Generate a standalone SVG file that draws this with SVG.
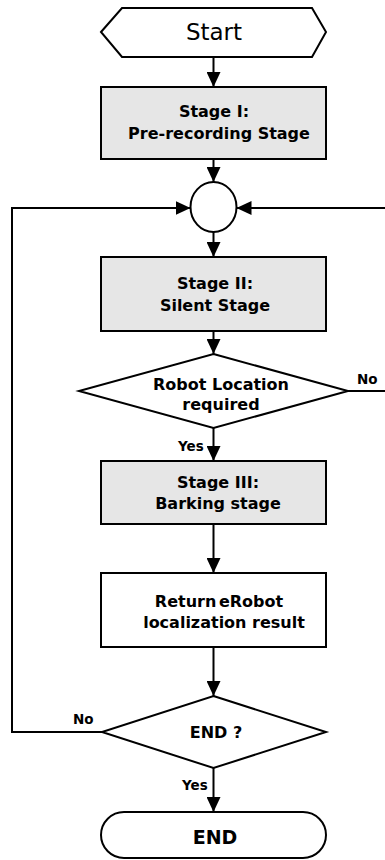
<svg xmlns="http://www.w3.org/2000/svg" width="385" height="860" viewBox="0 0 385 860">
  <style>
    .shape { stroke: #000; stroke-width: 2; }
    .stage { fill: #e6e6e6; }
    .plain { fill: #fff; }
    .lbl { font-family: "DejaVu Sans", Verdana, sans-serif; font-weight: bold; font-size: 16px; text-anchor: middle; fill: #000; }
    .tag { font-family: "DejaVu Sans", Verdana, sans-serif; font-weight: bold; font-size: 13.5px; fill: #000; }
    .wire { fill: none; stroke: #000; stroke-width: 2; }
  </style>
  <defs>
    <marker id="arrow" viewBox="0 0 15 14" refX="15" refY="7" markerWidth="15" markerHeight="14" markerUnits="userSpaceOnUse" orient="auto">
      <path d="M0,0 L15,7 L0,14 z" fill="#000"/>
    </marker>
  </defs>

  <rect width="385" height="860" fill="#fff"/>

  <!-- connectors -->
  <g id="connectors">
    <line class="wire" x1="213.5" y1="57" x2="213.5" y2="87" marker-end="url(#arrow)"/>
    <line class="wire" x1="213.5" y1="159" x2="213.5" y2="182" marker-end="url(#arrow)"/>
    <line class="wire" x1="213.5" y1="232" x2="213.5" y2="257" marker-end="url(#arrow)"/>
    <line class="wire" x1="213.5" y1="331" x2="213.5" y2="354" marker-end="url(#arrow)"/>
    <line class="wire" x1="213.5" y1="428" x2="213.5" y2="461" marker-end="url(#arrow)"/>
    <line class="wire" x1="213.5" y1="524" x2="213.5" y2="573" marker-end="url(#arrow)"/>
    <line class="wire" x1="213.5" y1="647" x2="213.5" y2="696" marker-end="url(#arrow)"/>
    <line class="wire" x1="213.5" y1="768" x2="213.5" y2="812" marker-end="url(#arrow)"/>
    <!-- loop back from END ? (No) -->
    <polyline class="wire" points="102,732 12,732 12,208 190.5,208" marker-end="url(#arrow)"/>
    <!-- loop back from Robot Location required (No) -->
    <line class="wire" x1="348" y1="391" x2="386" y2="391"/>
    <line class="wire" x1="386" y1="208" x2="236.5" y2="208" marker-end="url(#arrow)"/>
    <text class="tag" x="357" y="384">No</text>
    <text class="tag" x="178" y="451">Yes</text>
    <text class="tag" x="73" y="724">No</text>
    <text class="tag" x="182" y="790">Yes</text>
  </g>

  <g id="start">
    <polygon class="shape plain" points="101,32 122,8 312,8 326,32 312,57 122,57"/>
    <text x="214" y="40" font-family="DejaVu Sans, Verdana, sans-serif" font-size="23" text-anchor="middle">Start</text>
  </g>

  <g id="stage1">
    <rect class="shape stage" x="101" y="87" width="225" height="72"/>
    <text class="lbl" x="214" y="117">Stage I:</text>
    <text class="lbl" x="219" y="139">Pre-recording Stage</text>
  </g>

  <g id="junction">
    <ellipse class="shape plain" cx="213.5" cy="207" rx="23" ry="25"/>
  </g>

  <g id="stage2">
    <rect class="shape stage" x="101" y="257" width="225" height="74"/>
    <text class="lbl" x="215" y="289">Stage II:</text>
    <text class="lbl" x="215" y="311">Silent Stage</text>
  </g>

  <g id="decision-location">
    <polygon class="shape plain" points="213.5,354 348,391 213.5,428 79,391"/>
    <text class="lbl" x="221" y="390">Robot Location</text>
    <text class="lbl" x="221" y="410">required</text>
  </g>

  <g id="stage3">
    <rect class="shape stage" x="101" y="461" width="225" height="63"/>
    <text class="lbl" x="218" y="488">Stage III:</text>
    <text class="lbl" x="218" y="509">Barking stage</text>
  </g>

  <g id="result">
    <rect class="shape plain" x="101" y="573" width="225" height="74"/>
    <text class="lbl" x="219" y="607" word-spacing="-3">Return eRobot</text>
    <text class="lbl" x="224" y="628">localization result</text>
  </g>

  <g id="decision-end">
    <polygon class="shape plain" points="213.5,696 326,732 213.5,768 102,732"/>
    <text class="lbl" x="216" y="738">END ?</text>
  </g>

  <g id="end">
    <rect class="shape plain" x="101" y="812" width="225" height="46" rx="23" ry="23"/>
    <text x="215" y="844" font-family="DejaVu Sans, Verdana, sans-serif" font-weight="bold" font-size="19" text-anchor="middle">END</text>
  </g>
</svg>
